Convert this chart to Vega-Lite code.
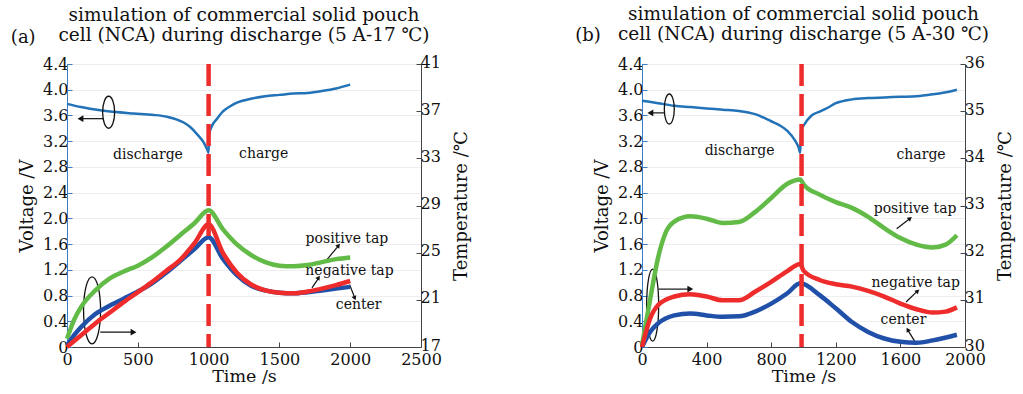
{
  "$schema": "https://vega.github.io/schema/vega-lite/v6.json",
  "padding": {"left": 10, "top": 4, "right": 4, "bottom": 1},
  "spacing": 103,
  "config": {
    "font": "DejaVu Serif",
    "view": {"stroke": "#555555", "strokeWidth": 1},
    "axis": {
      "labelFont": "DejaVu Serif", "titleFont": "DejaVu Serif",
      "labelFontSize": 16, "titleFontSize": 18, "titleFontWeight": "normal",
      "labelColor": "#111111", "titleColor": "#111111",
      "tickSize": -5, "labelPadding": 4, "domainColor": "#444444", "tickColor": "#444444",
      "labelOverlap": false, "labelFlush": false, "labelBound": false
    },
    "title": {"font": "DejaVu Serif", "fontSize": 18.5, "fontWeight": "normal", "color": "#111111", "lineHeight": 20},
    "text": {"font": "DejaVu Serif", "fontSize": 13, "color": "#111111"}
  },
  "hconcat": [
    {
      "width": 354, "height": 283,
      "title": {"text": ["simulation of commercial solid pouch", "cell (NCA) during discharge (5 A-17 ℃)"], "anchor": "middle", "offset": -16},
      "resolve": {"scale": {"y": "independent"}},
      "layer": [
        {
          "layer": [
            {
              "data": {"values": [
                {"t": 0, "v": 3.78}, {"t": 100, "v": 3.73}, {"t": 235, "v": 3.68}, {"t": 470, "v": 3.63}, {"t": 600, "v": 3.61},
                {"t": 706, "v": 3.58}, {"t": 824, "v": 3.49}, {"t": 870, "v": 3.42}, {"t": 918, "v": 3.31}, {"t": 965, "v": 3.18},
                {"t": 994, "v": 3.05}, {"t": 1000, "v": 3.02}, {"t": 1003, "v": 3.3}, {"t": 1020, "v": 3.42}, {"t": 1060, "v": 3.55},
                {"t": 1100, "v": 3.66}, {"t": 1150, "v": 3.74}, {"t": 1200, "v": 3.8}, {"t": 1300, "v": 3.86}, {"t": 1400, "v": 3.9},
                {"t": 1500, "v": 3.92}, {"t": 1600, "v": 3.94}, {"t": 1700, "v": 3.95}, {"t": 1800, "v": 3.98}, {"t": 1900, "v": 4.02},
                {"t": 2000, "v": 4.08}
              ]},
              "mark": {"type": "line", "color": "#2272b8", "strokeWidth": 2.5, "interpolate": "monotone"},
              "encoding": {
                "x": {"field": "t", "type": "quantitative", "scale": {"domain": [0, 2500], "nice": false},
                      "axis": {"title": "Time /s", "values": [0, 500, 1000, 1500, 2000, 2500], "tickCount": 20, "format": "d", "grid": false, "labelPadding": 9, "titlePadding": 0, "titleFontSize": 17.5}},
                "y": {"field": "v", "type": "quantitative", "scale": {"domain": [0, 4.4], "nice": false},
                      "axis": {"title": "Voltage /V", "values": [0, 0.4, 0.8, 1.2, 1.6, 2.0, 2.4, 2.8, 3.2, 3.6, 4.0, 4.4], "tickCount": 20,
                               "labelExpr": "datum.value == 0 ? '0' : format(datum.value, '.1f')",
                               "domainColor": "#3b7dc6", "tickColor": "#3b7dc6", "grid": true, "gridColor": "#eeeeee", "titlePadding": 6}}
              }
            },
            {
              "data": {"values": [{"t": 294, "v": 3.65}]},
              "mark": {"type": "point", "shape": "M0,-1A0.375,1 0 1,1 0,1A0.375,1 0 1,1 0,-1Z", "size": 1024, "filled": false, "color": "#111111", "strokeWidth": 1.3, "opacity": 1},
              "encoding": {"x": {"field": "t", "type": "quantitative"}, "y": {"field": "v", "type": "quantitative"}}
            },
            {
              "data": {"values": [{"t": 177, "v": 0.57}]},
              "mark": {"type": "point", "shape": "M0,-1A0.254,1 0 1,1 0,1A0.254,1 0 1,1 0,-1Z", "size": 4489, "filled": false, "color": "#111111", "strokeWidth": 1.3, "opacity": 1},
              "encoding": {"x": {"field": "t", "type": "quantitative"}, "y": {"field": "v", "type": "quantitative"}}
            },
            {
              "data": {"values": [
                {"t": 260, "v": 3.55, "t2": 100, "v2": 3.55},
                {"t": 235, "v": 0.23, "t2": 460, "v2": 0.23},
                {"t": 1836, "v": 1.36, "t2": 1912, "v2": 1.56},
                {"t": 1730, "v": 0.92, "t2": 1773, "v2": 1.06},
                {"t": 1996, "v": 0.97, "t2": 2029, "v2": 0.78}
              ]},
              "mark": {"type": "rule", "color": "#111111", "strokeWidth": 1.2},
              "encoding": {"x": {"field": "t", "type": "quantitative"}, "y": {"field": "v", "type": "quantitative"},
                           "x2": {"field": "t2"}, "y2": {"field": "v2"}}
            },
            {
              "data": {"values": [{"t": 95, "v": 3.55}]},
              "mark": {"type": "point", "shape": "triangle-left", "size": 45, "filled": true, "color": "#111111", "opacity": 1},
              "encoding": {"x": {"field": "t", "type": "quantitative"}, "y": {"field": "v", "type": "quantitative"}}
            },
            {
              "data": {"values": [{"t": 470, "v": 0.23}]},
              "mark": {"type": "point", "shape": "triangle-right", "size": 45, "filled": true, "color": "#111111", "opacity": 1},
              "encoding": {"x": {"field": "t", "type": "quantitative"}, "y": {"field": "v", "type": "quantitative"}}
            },
            {
              "data": {"values": [{"t": 1918, "v": 1.58}]},
              "mark": {"type": "point", "shape": "triangle-up", "size": 25, "angle": 39, "filled": true, "color": "#111111", "opacity": 1},
              "encoding": {"x": {"field": "t", "type": "quantitative"}, "y": {"field": "v", "type": "quantitative"}}
            },
            {
              "data": {"values": [{"t": 1777, "v": 1.08}]},
              "mark": {"type": "point", "shape": "triangle-up", "size": 25, "angle": 34, "filled": true, "color": "#111111", "opacity": 1},
              "encoding": {"x": {"field": "t", "type": "quantitative"}, "y": {"field": "v", "type": "quantitative"}}
            },
            {
              "data": {"values": [{"t": 2032, "v": 0.76}]},
              "mark": {"type": "point", "shape": "triangle-up", "size": 25, "angle": 159, "filled": true, "color": "#111111", "opacity": 1},
              "encoding": {"x": {"field": "t", "type": "quantitative"}, "y": {"field": "v", "type": "quantitative"}}
            },
            {
              "data": {"values": [
                {"t": 572, "v": 2.99, "label": "discharge"},
                {"t": 1389, "v": 3.0, "label": "charge"},
                {"t": 1977, "v": 1.68, "label": "positive tap"},
                {"t": 1995, "v": 1.18, "label": "negative tap"},
                {"t": 2060, "v": 0.66, "label": "center"}
              ]},
              "mark": {"type": "text", "fontSize": 14, "align": "center", "baseline": "middle"},
              "encoding": {"x": {"field": "t", "type": "quantitative"}, "y": {"field": "v", "type": "quantitative"}, "text": {"field": "label"}}
            },
            {
              "data": {"values": [{"t": -309, "v": 4.81, "label": "(a)"}]},
              "mark": {"type": "text", "fontSize": 18, "align": "center", "baseline": "middle"},
              "encoding": {"x": {"field": "t", "type": "quantitative"}, "y": {"field": "v", "type": "quantitative"}, "text": {"field": "label"}}
            }
          ]
        },
        {
          "layer": [
            {
              "data": {"values": [
                {"t": 0, "T": 17.7, "s": "positive tap"}, {"t": 50, "T": 19.3, "s": "positive tap"}, {"t": 100, "T": 20.4, "s": "positive tap"},
                {"t": 200, "T": 21.8, "s": "positive tap"}, {"t": 300, "T": 22.8, "s": "positive tap"}, {"t": 400, "T": 23.4, "s": "positive tap"},
                {"t": 500, "T": 23.9, "s": "positive tap"}, {"t": 600, "T": 24.6, "s": "positive tap"}, {"t": 700, "T": 25.5, "s": "positive tap"},
                {"t": 800, "T": 26.5, "s": "positive tap"}, {"t": 900, "T": 27.5, "s": "positive tap"}, {"t": 1000, "T": 28.6, "s": "positive tap"},
                {"t": 1100, "T": 27.0, "s": "positive tap"}, {"t": 1200, "T": 25.7, "s": "positive tap"}, {"t": 1300, "T": 24.8, "s": "positive tap"},
                {"t": 1400, "T": 24.2, "s": "positive tap"}, {"t": 1500, "T": 23.9, "s": "positive tap"}, {"t": 1600, "T": 23.85, "s": "positive tap"},
                {"t": 1700, "T": 23.95, "s": "positive tap"}, {"t": 1800, "T": 24.2, "s": "positive tap"}, {"t": 1900, "T": 24.45, "s": "positive tap"},
                {"t": 2000, "T": 24.6, "s": "positive tap"},
                {"t": 0, "T": 17.1, "s": "center"}, {"t": 50, "T": 18.0, "s": "center"}, {"t": 100, "T": 18.7, "s": "center"},
                {"t": 200, "T": 19.8, "s": "center"}, {"t": 300, "T": 20.5, "s": "center"}, {"t": 400, "T": 21.1, "s": "center"},
                {"t": 500, "T": 21.7, "s": "center"}, {"t": 600, "T": 22.4, "s": "center"}, {"t": 700, "T": 23.3, "s": "center"},
                {"t": 800, "T": 24.3, "s": "center"}, {"t": 900, "T": 25.3, "s": "center"}, {"t": 1000, "T": 26.3, "s": "center"},
                {"t": 1100, "T": 24.5, "s": "center"}, {"t": 1200, "T": 23.1, "s": "center"}, {"t": 1300, "T": 22.2, "s": "center"},
                {"t": 1400, "T": 21.8, "s": "center"}, {"t": 1500, "T": 21.6, "s": "center"}, {"t": 1600, "T": 21.55, "s": "center"},
                {"t": 1700, "T": 21.65, "s": "center"}, {"t": 1800, "T": 21.8, "s": "center"}, {"t": 1900, "T": 21.95, "s": "center"},
                {"t": 2000, "T": 22.1, "s": "center"},
                {"t": 0, "T": 17.0, "s": "negative tap"}, {"t": 100, "T": 18.0, "s": "negative tap"}, {"t": 200, "T": 19.0, "s": "negative tap"},
                {"t": 300, "T": 19.9, "s": "negative tap"}, {"t": 400, "T": 20.8, "s": "negative tap"}, {"t": 500, "T": 21.65, "s": "negative tap"},
                {"t": 600, "T": 22.5, "s": "negative tap"}, {"t": 700, "T": 23.45, "s": "negative tap"}, {"t": 800, "T": 24.4, "s": "negative tap"},
                {"t": 900, "T": 25.8, "s": "negative tap"}, {"t": 1000, "T": 27.4, "s": "negative tap"}, {"t": 1100, "T": 25.0, "s": "negative tap"},
                {"t": 1200, "T": 23.3, "s": "negative tap"}, {"t": 1300, "T": 22.3, "s": "negative tap"}, {"t": 1400, "T": 21.8, "s": "negative tap"},
                {"t": 1500, "T": 21.6, "s": "negative tap"}, {"t": 1600, "T": 21.55, "s": "negative tap"}, {"t": 1700, "T": 21.7, "s": "negative tap"},
                {"t": 1800, "T": 21.95, "s": "negative tap"}, {"t": 1900, "T": 22.25, "s": "negative tap"}, {"t": 2000, "T": 22.6, "s": "negative tap"}
              ]},
              "mark": {"type": "line", "strokeWidth": 4.5, "interpolate": "monotone"},
              "encoding": {
                "x": {"field": "t", "type": "quantitative"},
                "y": {"field": "T", "type": "quantitative", "scale": {"domain": [17, 41], "nice": false},
                      "axis": {"orient": "right", "title": "Temperature /℃", "titleAngle": 270, "titleBaseline": "top", "values": [17, 21, 25, 29, 33, 37, 41], "tickCount": 20, "format": "d", "labelOffset": -2, "grid": false, "titlePadding": 12}},
                "color": {"field": "s", "type": "nominal", "legend": null, "sort": null,
                          "scale": {"domain": ["positive tap", "center", "negative tap"], "range": ["#62bb46", "#2050a8", "#ee2c2c"]}}
              }
            },
            {
              "data": {"values": [{"t": 1000}]},
              "mark": {"type": "rule", "color": "#ee2c2c", "strokeWidth": 4.5, "strokeDash": [22, 8]},
              "encoding": {"x": {"field": "t", "type": "quantitative"}}
            }
          ]
        }
      ]
    },
    {
      "width": 323, "height": 283,
      "title": {"text": ["simulation of commercial solid pouch", "cell (NCA) during discharge (5 A-30 ℃)"], "anchor": "middle", "offset": -16},
      "resolve": {"scale": {"y": "independent"}},
      "layer": [
        {
          "layer": [
            {
              "data": {"values": [
                {"t": 0, "v": 3.83}, {"t": 100, "v": 3.79}, {"t": 200, "v": 3.75}, {"t": 300, "v": 3.73}, {"t": 400, "v": 3.71},
                {"t": 500, "v": 3.69}, {"t": 600, "v": 3.67}, {"t": 700, "v": 3.62}, {"t": 800, "v": 3.51}, {"t": 850, "v": 3.45},
                {"t": 900, "v": 3.36}, {"t": 950, "v": 3.2}, {"t": 970, "v": 3.1}, {"t": 980, "v": 3.02}, {"t": 985, "v": 3.36},
                {"t": 1000, "v": 3.44}, {"t": 1050, "v": 3.6}, {"t": 1100, "v": 3.66}, {"t": 1150, "v": 3.72}, {"t": 1200, "v": 3.79},
                {"t": 1300, "v": 3.85}, {"t": 1400, "v": 3.87}, {"t": 1500, "v": 3.88}, {"t": 1600, "v": 3.89}, {"t": 1700, "v": 3.9},
                {"t": 1800, "v": 3.93}, {"t": 1900, "v": 3.97}, {"t": 1950, "v": 4.0}
              ]},
              "mark": {"type": "line", "color": "#2272b8", "strokeWidth": 2.5, "interpolate": "monotone"},
              "encoding": {
                "x": {"field": "t", "type": "quantitative", "scale": {"domain": [0, 2000], "nice": false},
                      "axis": {"title": "Time /s", "values": [0, 400, 800, 1200, 1600, 2000], "tickCount": 20, "format": "d", "grid": false, "labelPadding": 9, "titlePadding": 0, "titleFontSize": 17.5}},
                "y": {"field": "v", "type": "quantitative", "scale": {"domain": [0, 4.4], "nice": false},
                      "axis": {"title": "Voltage /V", "values": [0, 0.4, 0.8, 1.2, 1.6, 2.0, 2.4, 2.8, 3.2, 3.6, 4.0, 4.4], "tickCount": 20,
                               "labelExpr": "datum.value == 0 ? '0' : format(datum.value, '.1f')",
                               "domainColor": "#3b7dc6", "tickColor": "#3b7dc6", "grid": true, "gridColor": "#eeeeee", "titlePadding": 6}}
              }
            },
            {
              "data": {"values": [{"t": 169, "v": 3.70}]},
              "mark": {"type": "point", "shape": "M0,-1A0.333,1 0 1,1 0,1A0.333,1 0 1,1 0,-1Z", "size": 900, "filled": false, "color": "#111111", "strokeWidth": 1.3, "opacity": 1},
              "encoding": {"x": {"field": "t", "type": "quantitative"}, "y": {"field": "v", "type": "quantitative"}}
            },
            {
              "data": {"values": [{"t": 66, "v": 0.65}]},
              "mark": {"type": "point", "shape": "M0,-1A0.167,1 0 1,1 0,1A0.167,1 0 1,1 0,-1Z", "size": 5184, "filled": false, "color": "#111111", "strokeWidth": 1.3, "opacity": 1},
              "encoding": {"x": {"field": "t", "type": "quantitative"}, "y": {"field": "v", "type": "quantitative"}}
            },
            {
              "data": {"values": [
                {"t": 140, "v": 3.64, "t2": 58, "v2": 3.64},
                {"t": 103, "v": 0.90, "t2": 292, "v2": 0.90},
                {"t": 1577, "v": 1.84, "t2": 1655, "v2": 1.99},
                {"t": 1635, "v": 0.70, "t2": 1702, "v2": 0.86},
                {"t": 1691, "v": 0.08, "t2": 1649, "v2": 0.25}
              ]},
              "mark": {"type": "rule", "color": "#111111", "strokeWidth": 1.2},
              "encoding": {"x": {"field": "t", "type": "quantitative"}, "y": {"field": "v", "type": "quantitative"},
                           "x2": {"field": "t2"}, "y2": {"field": "v2"}}
            },
            {
              "data": {"values": [{"t": 52, "v": 3.64}]},
              "mark": {"type": "point", "shape": "triangle-left", "size": 45, "filled": true, "color": "#111111", "opacity": 1},
              "encoding": {"x": {"field": "t", "type": "quantitative"}, "y": {"field": "v", "type": "quantitative"}}
            },
            {
              "data": {"values": [{"t": 299, "v": 0.90}]},
              "mark": {"type": "point", "shape": "triangle-right", "size": 45, "filled": true, "color": "#111111", "opacity": 1},
              "encoding": {"x": {"field": "t", "type": "quantitative"}, "y": {"field": "v", "type": "quantitative"}}
            },
            {
              "data": {"values": [{"t": 1660, "v": 2.0}]},
              "mark": {"type": "point", "shape": "triangle-up", "size": 25, "angle": 51, "filled": true, "color": "#111111", "opacity": 1},
              "encoding": {"x": {"field": "t", "type": "quantitative"}, "y": {"field": "v", "type": "quantitative"}}
            },
            {
              "data": {"values": [{"t": 1707, "v": 0.87}]},
              "mark": {"type": "point", "shape": "triangle-up", "size": 25, "angle": 48, "filled": true, "color": "#111111", "opacity": 1},
              "encoding": {"x": {"field": "t", "type": "quantitative"}, "y": {"field": "v", "type": "quantitative"}}
            },
            {
              "data": {"values": [{"t": 1645, "v": 0.27}]},
              "mark": {"type": "point", "shape": "triangle-up", "size": 25, "angle": 329, "filled": true, "color": "#111111", "opacity": 1},
              "encoding": {"x": {"field": "t", "type": "quantitative"}, "y": {"field": "v", "type": "quantitative"}}
            },
            {
              "data": {"values": [
                {"t": 604, "v": 3.04, "label": "discharge"},
                {"t": 1728, "v": 2.99, "label": "charge"},
                {"t": 1691, "v": 2.15, "label": "positive tap"},
                {"t": 1695, "v": 1.0, "label": "negative tap"},
                {"t": 1619, "v": 0.42, "label": "center"}
              ]},
              "mark": {"type": "text", "fontSize": 14, "align": "center", "baseline": "middle"},
              "encoding": {"x": {"field": "t", "type": "quantitative"}, "y": {"field": "v", "type": "quantitative"}, "text": {"field": "label"}}
            },
            {
              "data": {"values": [{"t": -334, "v": 4.83, "label": "(b)"}]},
              "mark": {"type": "text", "fontSize": 18, "align": "center", "baseline": "middle"},
              "encoding": {"x": {"field": "t", "type": "quantitative"}, "y": {"field": "v", "type": "quantitative"}, "text": {"field": "label"}}
            }
          ]
        },
        {
          "layer": [
            {
              "data": {"values": [
                {"t": 0, "T": 30.04, "s": "positive tap"}, {"t": 50, "T": 31.0, "s": "positive tap"}, {"t": 100, "T": 31.9, "s": "positive tap"},
                {"t": 150, "T": 32.45, "s": "positive tap"}, {"t": 200, "T": 32.66, "s": "positive tap"}, {"t": 300, "T": 32.77, "s": "positive tap"},
                {"t": 400, "T": 32.72, "s": "positive tap"}, {"t": 500, "T": 32.63, "s": "positive tap"}, {"t": 600, "T": 32.65, "s": "positive tap"},
                {"t": 700, "T": 32.86, "s": "positive tap"}, {"t": 800, "T": 33.16, "s": "positive tap"}, {"t": 900, "T": 33.46, "s": "positive tap"},
                {"t": 980, "T": 33.55, "s": "positive tap"}, {"t": 1000, "T": 33.45, "s": "positive tap"}, {"t": 1100, "T": 33.23, "s": "positive tap"},
                {"t": 1200, "T": 33.07, "s": "positive tap"}, {"t": 1300, "T": 32.95, "s": "positive tap"}, {"t": 1400, "T": 32.76, "s": "positive tap"},
                {"t": 1500, "T": 32.52, "s": "positive tap"}, {"t": 1600, "T": 32.31, "s": "positive tap"}, {"t": 1700, "T": 32.17, "s": "positive tap"},
                {"t": 1800, "T": 32.11, "s": "positive tap"}, {"t": 1880, "T": 32.17, "s": "positive tap"}, {"t": 1950, "T": 32.37, "s": "positive tap"},
                {"t": 0, "T": 30.0, "s": "center"}, {"t": 50, "T": 30.32, "s": "center"}, {"t": 100, "T": 30.5, "s": "center"},
                {"t": 200, "T": 30.67, "s": "center"}, {"t": 300, "T": 30.71, "s": "center"}, {"t": 400, "T": 30.67, "s": "center"},
                {"t": 500, "T": 30.64, "s": "center"}, {"t": 600, "T": 30.65, "s": "center"}, {"t": 700, "T": 30.75, "s": "center"},
                {"t": 800, "T": 30.92, "s": "center"}, {"t": 900, "T": 31.14, "s": "center"}, {"t": 980, "T": 31.35, "s": "center"},
                {"t": 1100, "T": 31.1, "s": "center"}, {"t": 1200, "T": 30.82, "s": "center"}, {"t": 1300, "T": 30.53, "s": "center"},
                {"t": 1400, "T": 30.32, "s": "center"}, {"t": 1500, "T": 30.18, "s": "center"}, {"t": 1600, "T": 30.11, "s": "center"},
                {"t": 1700, "T": 30.09, "s": "center"}, {"t": 1800, "T": 30.14, "s": "center"}, {"t": 1950, "T": 30.26, "s": "center"},
                {"t": 0, "T": 30.0, "s": "negative tap"}, {"t": 50, "T": 30.6, "s": "negative tap"}, {"t": 100, "T": 30.89, "s": "negative tap"},
                {"t": 200, "T": 31.07, "s": "negative tap"}, {"t": 300, "T": 31.12, "s": "negative tap"}, {"t": 400, "T": 31.07, "s": "negative tap"},
                {"t": 500, "T": 30.99, "s": "negative tap"}, {"t": 600, "T": 30.99, "s": "negative tap"}, {"t": 700, "T": 31.17, "s": "negative tap"},
                {"t": 800, "T": 31.38, "s": "negative tap"}, {"t": 900, "T": 31.61, "s": "negative tap"}, {"t": 980, "T": 31.76, "s": "negative tap"},
                {"t": 1000, "T": 31.62, "s": "negative tap"}, {"t": 1100, "T": 31.42, "s": "negative tap"}, {"t": 1200, "T": 31.33, "s": "negative tap"},
                {"t": 1300, "T": 31.28, "s": "negative tap"}, {"t": 1400, "T": 31.19, "s": "negative tap"}, {"t": 1500, "T": 31.07, "s": "negative tap"},
                {"t": 1600, "T": 30.92, "s": "negative tap"}, {"t": 1700, "T": 30.8, "s": "negative tap"}, {"t": 1800, "T": 30.73, "s": "negative tap"},
                {"t": 1880, "T": 30.75, "s": "negative tap"}, {"t": 1950, "T": 30.84, "s": "negative tap"}
              ]},
              "mark": {"type": "line", "strokeWidth": 4.5, "interpolate": "monotone"},
              "encoding": {
                "x": {"field": "t", "type": "quantitative"},
                "y": {"field": "T", "type": "quantitative", "scale": {"domain": [30, 36], "nice": false},
                      "axis": {"orient": "right", "title": "Temperature /℃", "titleAngle": 270, "titleBaseline": "top", "values": [30, 31, 32, 33, 34, 35, 36], "tickCount": 20, "format": "d", "labelOffset": -2, "grid": false, "titlePadding": 12}},
                "color": {"field": "s", "type": "nominal", "legend": null, "sort": null,
                          "scale": {"domain": ["positive tap", "center", "negative tap"], "range": ["#62bb46", "#2050a8", "#ee2c2c"]}}
              }
            },
            {
              "data": {"values": [{"t": 988}]},
              "mark": {"type": "rule", "color": "#ee2c2c", "strokeWidth": 4.5, "strokeDash": [22, 8]},
              "encoding": {"x": {"field": "t", "type": "quantitative"}}
            }
          ]
        }
      ]
    }
  ]
}
